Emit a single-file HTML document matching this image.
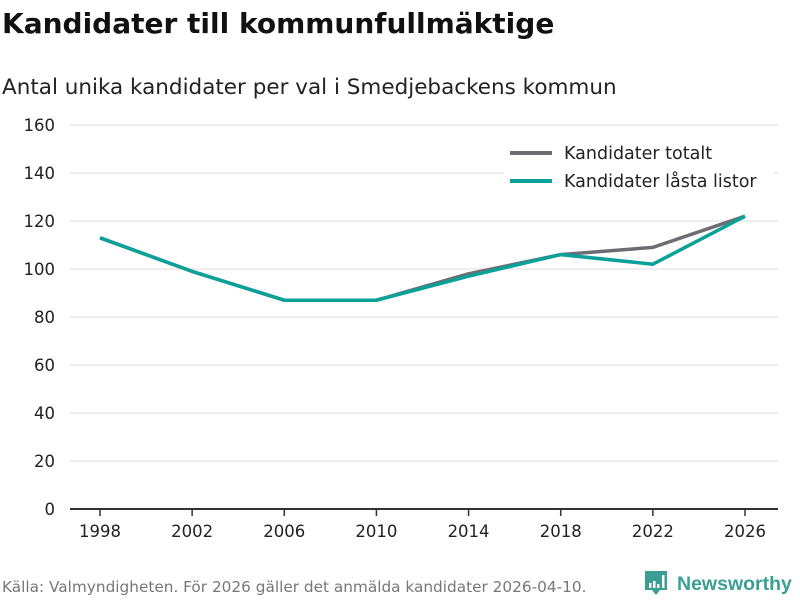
<!DOCTYPE html>
<html><head><meta charset="utf-8"><style>
body{margin:0;width:800px;height:600px;background:#fff;font-family:"DejaVu Sans","Liberation Sans",sans-serif;overflow:hidden}
</style></head><body>
<svg width="800" height="600" style="position:absolute;left:0;top:0">
<text x="2" y="33" font-size="28" font-weight="bold" fill="#111">Kandidater till kommunfullmäktige</text>
<text x="2" y="94" font-size="21.5" fill="#222">Antal unika kandidater per val i Smedjebackens kommun</text>
<g id="grid"></g><g id="xaxis"></g><g id="lines"></g>
<rect x="504" y="140" width="270" height="56" fill="#fff"/>
<line x1="510" y1="153" x2="552" y2="153" stroke="#6d6c72" stroke-width="4"/>
<text x="564" y="159" font-size="17.5" fill="#222">Kandidater totalt</text>
<line x1="510" y1="181" x2="552" y2="181" stroke="#0aa198" stroke-width="4"/>
<text x="564" y="187" font-size="17.5" fill="#222">Kandidater låsta listor</text>
<text x="2" y="592" font-size="15.3" fill="#777">Källa: Valmyndigheten. För 2026 gäller det anmälda kandidater 2026-04-10.</text>
<g>
<path d="M645 571 h22 v19 h-7 l-4 5 l-4 -5 h-7 z" fill="#3a9e94"/>
<rect x="649" y="583" width="2.5" height="5" fill="#fff"/><rect x="653" y="581" width="2.5" height="7" fill="#fff"/><rect x="657" y="584" width="2.5" height="4" fill="#fff"/><rect x="662" y="575" width="2.5" height="13" fill="#fff"/>
<text x="677" y="590" font-size="19.5" font-weight="bold" fill="#3a9e94" font-family="Liberation Sans, sans-serif">Newsworthy</text>
</g>
</svg>
<script>
const years=[1998,2002,2006,2010,2014,2018,2022,2026];
const totalt=[113,99,87,87,98,106,109,122];
const lasta=[113,99,87,87,97,106,102,122];
const yTicks=[0,20,40,60,80,100,120,140,160];
const NS="http://www.w3.org/2000/svg";
const x=v=>100+(v-1998)*(745-100)/28;
const y=v=>509-v*2.4;
function mk(t,a,p){const e=document.createElementNS(NS,t);for(const k in a)e.setAttribute(k,a[k]);p.appendChild(e);return e;}
const g=document.getElementById('grid');
yTicks.forEach(t=>{
 const l=mk('line',{x1:70,x2:778,y1:y(t),y2:y(t),stroke:t===0?'#333':'#ddd','stroke-width':t===0?2:1},g);
 
 
 const tx=mk('text',{x:55,y:y(t)+6,'text-anchor':'end','font-size':16.5,fill:'#222'},g);
 tx.textContent=t;
 
 
});
const xa=document.getElementById('xaxis');
years.forEach(v=>{
 const l=mk('line',{x1:x(v),x2:x(v),y1:509,y2:516,stroke:'#333','stroke-width':1.5},xa);
 
 
 const tx=mk('text',{x:x(v),y:537,'text-anchor':'middle','font-size':16.5,fill:'#222'},xa);
 tx.textContent=v;
 
 
});
const lg=document.getElementById('lines');
[[totalt,'#6d6c72','line-totalt'],[lasta,'#0aa198','line-lasta']].forEach(([d,c,n])=>{
 const p=mk('polyline',{points:d.map((v,i)=>x(years[i])+','+y(v)).join(' '),fill:'none',stroke:c,'stroke-width':3.5,'stroke-linejoin':'round'},lg);
 
 
});
</script>
</body></html>
